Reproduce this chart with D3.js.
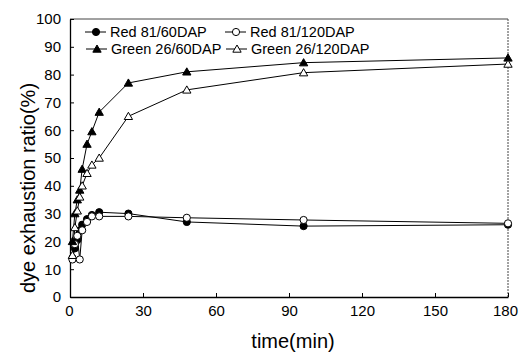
<!DOCTYPE html>
<html><head><meta charset="utf-8">
<script src="https://cdn.jsdelivr.net/npm/d3@7"></script>
<style>body{margin:0;background:#fff}svg{display:block;font-family:"Liberation Sans",Arial,sans-serif}</style>
</head><body>
<svg id="c" width="519" height="355"></svg>
<script>
const times = [1, 2, 3, 4, 5, 7, 9, 12, 24, 48, 96, 180];
const red60 = [14, 17.5, 20.5, 24, 26, 28, 29.5, 30.5, 30, 27, 25.5, 26];
const red120 = [13.5, 19, 22, 13.5, 24, 27, 29, 29, 29, 28.5, 27.7, 26.5];
const green60 = [20, 30, 35, 38.5, 46, 55, 59.5, 66.5, 77, 81, 84.3, 86];
const green120 = [15, 25, 31, 36, 40, 44.5, 47.5, 50, 65, 74.5, 80.7, 83.8];
const xTicks = [0, 30, 60, 90, 120, 150, 180];
const yTicks = [0, 10, 20, 30, 40, 50, 60, 70, 80, 90, 100];
const seriesNames = ["Red 81/60DAP", "Red 81/120DAP", "Green 26/60DAP", "Green 26/120DAP"];

const series = [
  {name: seriesNames[0], vals: red60, shape: "circle", fill: "#000"},
  {name: seriesNames[1], vals: red120, shape: "circle", fill: "#fff"},
  {name: seriesNames[2], vals: green60, shape: "triangle", fill: "#000"},
  {name: seriesNames[3], vals: green120, shape: "triangle", fill: "#fff"}
];

const svg = d3.select("#c");
const L = 70, R = 508, T = 19, B = 297;
const x = d3.scaleLinear().domain([0, 180]).range([L, R]);
const y = d3.scaleLinear().domain([0, 100]).range([B, T]);

// frame
svg.append("line").attr("x1", L).attr("x2", R).attr("y1", T).attr("y2", T)
  .attr("stroke", "#444").attr("stroke-width", 1);
svg.append("line").attr("x1", R).attr("x2", R).attr("y1", T).attr("y2", B)
  .attr("stroke", "#444").attr("stroke-width", 1).attr("stroke-dasharray", "2,1");

// axes
const yAxis = d3.axisLeft(y).tickValues(yTicks).tickSizeInner(-4).tickSizeOuter(0).tickPadding(8);
const gy = svg.append("g").attr("transform", `translate(${L},0)`).call(yAxis);
const xAxis = d3.axisBottom(x).tickValues(xTicks).tickSizeInner(-4).tickSizeOuter(0).tickPadding(8);
const gx = svg.append("g").attr("transform", `translate(0,${B})`).call(xAxis);
[gx, gy].forEach(g => {
  g.select(".domain").attr("stroke", "#000").attr("stroke-width", 1.3);
  g.selectAll(".tick line").attr("stroke", "#000");
  g.selectAll(".tick text").attr("font-size", 15).attr("fill", "#000")
    .attr("font-family", '"Liberation Sans",Arial,sans-serif');
});
gy.selectAll(".tick text").attr("dx", -1);
gx.selectAll(".tick text").filter(d => d === 180).attr("dx", -3);
gx.selectAll(".tick text").filter(d => d === 0).attr("dx", -1);

// titles
svg.append("text").attr("x", 293).attr("y", 348).attr("text-anchor", "middle")
  .attr("font-size", 20).text("time(min)");
svg.append("text").attr("transform", "translate(35,188) rotate(-90)").attr("text-anchor", "middle")
  .attr("font-size", 20).text("dye exhaustion ratio(%)");

const line = d3.line().x(d => x(d[0])).y(d => y(d[1]));
const tri = d3.symbol().type(d3.symbolTriangle).size(30);

function marker(g, s, cx, cy) {
  if (s.shape === "circle") {
    g.append("circle").attr("cx", cx).attr("cy", cy).attr("r", 3.6)
      .attr("fill", s.fill).attr("stroke", "#000").attr("stroke-width", 1);
  } else {
    g.append("path").attr("d", tri()).attr("transform", `translate(${cx},${cy + 0.8})`)
      .attr("fill", s.fill).attr("stroke", "#000").attr("stroke-width", 1);
  }
}

series.forEach(s => {
  const pts = times.map((t, i) => [t, s.vals[i]]);
  svg.append("path").attr("d", line(pts)).attr("fill", "none")
    .attr("stroke", "#000").attr("stroke-width", 1);
});
series.forEach(s => {
  const g = svg.append("g");
  times.forEach((t, i) => marker(g, s, x(t), y(s.vals[i])));
});

// legend
const legPos = [[85, 32], [225, 32], [86, 49], [226, 49]];
series.forEach((s, i) => {
  const [lx, ly] = legPos[i];
  const g = svg.append("g");
  g.append("line").attr("x1", lx).attr("x2", lx + 21).attr("y1", ly).attr("y2", ly)
    .attr("stroke", "#000").attr("stroke-width", 1);
  marker(g, s, lx + 11, ly);
  g.append("text").attr("x", lx + 25).attr("y", ly + 5).attr("font-size", 14.5).text(s.name);
});
</script>
</body></html>
